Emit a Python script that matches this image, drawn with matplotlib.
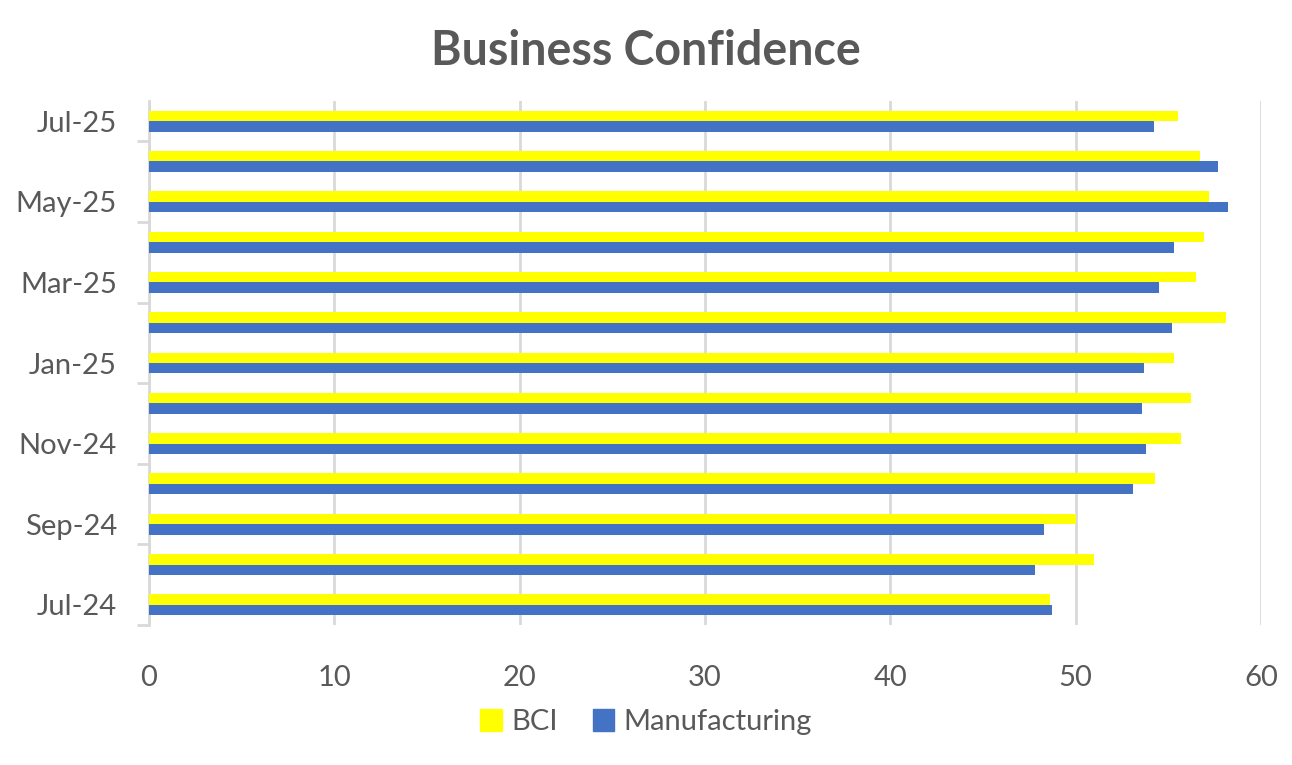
import matplotlib
matplotlib.use("Agg")
import matplotlib.pyplot as plt
import numpy as np
from matplotlib.patches import Patch

months = ["Jul-24", "Aug-24", "Sep-24", "Oct-24", "Nov-24", "Dec-24", "Jan-25",
          "Feb-25", "Mar-25", "Apr-25", "May-25", "Jun-25", "Jul-25"]
bci = [48.6, 51.0, 50.0, 54.3, 55.7, 56.2, 55.3, 58.1, 56.5, 56.9, 57.2, 56.7, 55.5]
manufacturing = [48.7, 47.8, 48.3, 53.1, 53.8, 53.6, 53.7, 55.2, 54.5, 55.3, 58.2, 57.7, 54.2]
xticks = [0, 10, 20, 30, 40, 50, 60]

TXT = "#595959"
GRID = "#d9d9d9"
plt.rcParams['font.family'] = ['Lato', 'DejaVu Sans']

fig = plt.figure(figsize=(12.92, 7.65), dpi=100)
ax = fig.add_axes([149/1292, 140/765, (1261-149)/1292, (625-101)/765])

y = np.arange(len(months))
h = 0.26
ax.barh(y + h/2, bci, height=h, color="#FFFF00", label="BCI", zorder=3)
ax.barh(y - h/2, manufacturing, height=h, color="#4472C4", label="Manufacturing", zorder=3)

ax.set_xlim(0, 60)
ax.set_ylim(-0.5, len(months) - 0.5)
ax.set_xticks(xticks)
ax.set_xticklabels([str(v) for v in xticks])
ax.xaxis.grid(True, color=GRID, linewidth=2, zorder=0)
ax.tick_params(axis='x', length=0, pad=29, labelsize=21, labelcolor=TXT)

ax.set_yticks(y[::2])
ax.set_yticklabels(months[::2])
ax.set_yticks(np.arange(-0.5, len(months) - 0.5, 2), minor=True)
ax.tick_params(axis='y', which='major', length=0, pad=23, labelsize=21, labelcolor=TXT)
ax.tick_params(axis='y', which='minor', length=9, width=2, color=GRID)

for s in ["top", "right", "bottom"]:
    ax.spines[s].set_visible(False)
ax.spines["left"].set_color(GRID)
ax.spines["left"].set_linewidth(2)

fig.suptitle("Business Confidence", x=0.5, y=0.962, fontsize=33.5, fontweight='bold', color=TXT)

handles = [Patch(color="#FFFF00", label="BCI"), Patch(color="#4472C4", label="Manufacturing")]
fig.legend(handles=handles, loc='center', bbox_to_anchor=(0.5, (765-722)/765), ncol=2,
           frameon=False, fontsize=21, labelcolor=TXT, handlelength=0.75, handleheight=0.75,
           handletextpad=0.3, columnspacing=1.2)

fig.savefig("out.png", dpi=100, facecolor="white")
